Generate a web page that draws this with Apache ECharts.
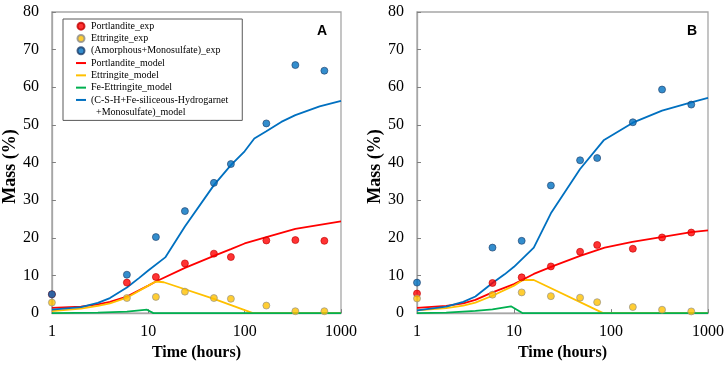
<!DOCTYPE html>
<html>
<head>
<meta charset="utf-8">
<script src="https://cdn.jsdelivr.net/npm/echarts@6/dist/echarts.min.js"></script>
<style>
html, body { margin: 0; padding: 0; background: #fff; }
#chart { width: 727px; height: 366px; }
</style>
</head>
<body>
<div id="chart"></div>
<script>
var expTimes = [1, 6, 12, 24, 48, 72, 168, 336, 672]
var yTicks = [0, 10, 20, 30, 40, 50, 60, 70, 80]

var names = [
  'Portlandite_exp',
  'Ettringite_exp',
  '(Amorphous+Monosulfate)_exp',
  'Portlandite_model',
  'Ettringite_model',
  'Fe-Ettringite_model',
  '(C-S-H+Fe-siliceous-Hydrogarnet+Monosulfate)_model',
]
var nameFirstLine = '(C-S-H+Fe-siliceous-Hydrogarnet'
var nameSecondLine = '  +Monosulfate)_model'

// panel A - measured
var portlanditeExpA = [5.0, 8.1, 9.6, 13.2, 15.8, 14.9, 19.3, 19.4, 19.2]
var ettringiteExpA = [2.8, 4.0, 4.3, 5.7, 4.0, 3.8, 2.0, 0.5, 0.5]
var amorphousExpA = [5.0, 10.2, 20.2, 27.1, 34.6, 39.6, 50.4, 65.9, 64.4]

// panel A - model, [hours, mass]
var portlanditeModelA = [[1, 1.4], [2, 1.7], [3, 2.3], [4, 3.0], [6, 4.4], [10, 7.3], [12, 8.4], [24, 12.0], [48, 15.2], [72, 17.0], [100, 18.5], [168, 20.2], [336, 22.4], [1000, 24.4]]
var ettringiteModelA = [[1, 0.5], [2, 1.2], [3, 1.9], [4, 2.6], [6, 4.1], [10, 7.3], [12, 8.4], [14.5, 8.2], [48, 3.8], [122, 0], [1000, 0]]
var feEttringiteModelA = [[1, 0], [3, 0.1], [6, 0.4], [9.7, 0.9], [11.3, 0], [1000, 0]]
var cshModelA = [[1, 0.9], [2, 1.6], [3, 2.7], [4, 4.0], [6, 6.8], [8, 9.3], [10, 11.3], [15, 14.8], [24, 23.0], [48, 34.0], [72, 39.3], [100, 43.0], [126, 46.4], [168, 48.3], [240, 50.8], [336, 52.6], [600, 54.9], [1000, 56.4]]

// panel B - measured
var portlanditeExpB = [5.2, 8.0, 9.5, 12.4, 16.3, 18.1, 17.1, 20.1, 21.4]
var ettringiteExpB = [3.9, 4.9, 5.5, 4.5, 4.1, 2.9, 1.6, 0.9, 0.45]
var amorphousExpB = [8.1, 17.4, 19.2, 33.9, 40.6, 41.2, 50.7, 59.4, 55.4]

// panel B - model
var portlanditeModelB = [[1, 1.4], [2, 1.9], [3, 2.6], [4, 3.5], [6, 5.5], [10, 7.7], [16, 10.4], [26, 12.6], [48, 15.2], [86, 17.4], [166, 18.9], [330, 20.2], [673, 21.5], [1000, 22.0]]
var ettringiteModelB = [[1, 0.7], [2, 1.3], [3, 2.0], [4, 2.8], [6, 4.6], [10, 7.3], [12, 8.6], [13, 8.8], [16, 8.8], [83, 0], [1000, 0]]
var feEttringiteModelB = [[1, 0], [2, 0.15], [4, 0.6], [6, 1.0], [9.3, 1.8], [12.2, 0], [1000, 0]]
var cshModelB = [[1, 0.7], [2, 1.7], [3, 3.0], [4, 4.4], [6, 8.0], [8, 10.3], [10, 12.3], [16, 17.4], [24, 26.5], [48, 38.3], [84, 45.9], [168, 50.6], [336, 53.8], [672, 56.0], [1000, 57.2]]

var RED = '#ff0000'
var YELLOW = '#ffc000'
var GREEN = '#00b050'
var BLUE = '#0070c0'
var FRAME = '#a6a6a6'
var SERIF = 'Liberation Serif'
var LINE_ICON = 'path://M0 0H10V2H0Z'

function zip(times, vals) {
  return times.map(function (t, i) { return [t, vals[i]] })
}

function expSeries(name, vals, color, border, idx) {
  return {
    name: name,
    type: 'scatter',
    xAxisIndex: idx,
    yAxisIndex: idx,
    symbol: 'circle',
    symbolSize: 7,
    z: 3,
    itemStyle: { color: color, borderColor: border, borderWidth: 0.8 },
    data: zip(expTimes, vals),
  }
}

function modelSeries(name, data, color, idx) {
  return {
    name: name,
    type: 'line',
    xAxisIndex: idx,
    yAxisIndex: idx,
    symbol: 'none',
    z: 2,
    lineStyle: { color: color, width: 1.8 },
    itemStyle: { color: color },
    data: data,
  }
}

function panelSeries(idx, pExp, eExp, aExp, pMod, eMod, fMod, cMod) {
  return [
    modelSeries(names[3], pMod, RED, idx),
    modelSeries(names[4], eMod, YELLOW, idx),
    modelSeries(names[5], fMod, GREEN, idx),
    modelSeries(names[6], cMod, BLUE, idx),
    expSeries(names[0], pExp, RED, '#c00000', idx),
    expSeries(names[1], eExp, YELLOW, '#8c8c8c', idx),
    expSeries(names[2], aExp, BLUE, '#1f3f6a', idx),
  ]
}

function xAxis(idx) {
  return {
    type: 'log',
    logBase: 10,
    gridIndex: idx,
    min: 1,
    max: 1000,
    name: 'Time (hours)',
    nameLocation: 'middle',
    nameGap: 31,
    nameTextStyle: { fontFamily: SERIF, fontWeight: 'bold', fontSize: 16, color: '#000' },
    axisLine: { lineStyle: { color: FRAME, width: 1.3 } },
    axisTick: { inside: true, length: 4, lineStyle: { color: '#808080' } },
    axisLabel: {
      fontFamily: SERIF, fontSize: 16, color: '#000', margin: 11,
      formatter: function (v) { return String(Math.round(v)) },
    },
    minorTick: { show: false },
    splitLine: { show: false },
  }
}

function yAxis(idx, gap) {
  return {
    type: 'value',
    gridIndex: idx,
    min: yTicks[0],
    max: yTicks[yTicks.length - 1],
    interval: yTicks[1] - yTicks[0],
    name: 'Mass (%)',
    nameLocation: 'middle',
    nameGap: gap,
    nameTextStyle: { fontFamily: SERIF, fontWeight: 'bold', fontSize: 18, color: '#000', padding: [0, 8, 0, 0] },
    axisLine: { show: true, lineStyle: { color: FRAME, width: 1.3 } },
    axisTick: { inside: true, length: 4, lineStyle: { color: '#808080' } },
    axisLabel: { fontFamily: SERIF, fontSize: 16, color: '#000', margin: 13 },
    splitLine: { show: false },
  }
}

var legendData = names.map(function (n, i) {
  return i < 3 ? { name: n, icon: 'circle' } : { name: n, icon: LINE_ICON }
})
legendData.push({ name: nameSecondLine, icon: 'none' })

var chart = echarts.init(document.getElementById('chart'))
chart.setOption({
  animation: false,
  backgroundColor: '#fff',
  grid: [
    { left: 49, top: 12, width: 292, height: 303, show: true, borderColor: FRAME, borderWidth: 1.3, backgroundColor: 'transparent' },
    { left: 417, top: 12, width: 291, height: 304, show: true, borderColor: FRAME, borderWidth: 1.3, backgroundColor: 'transparent' },
  ],
  xAxis: [xAxis(0), xAxis(1)],
  yAxis: [yAxis(0, 29), yAxis(1, 31)],
  legend: {
    orient: 'vertical',
    left: 63,
    top: 19,
    padding: [1, 14, 2, 13],
    itemGap: 0,
    itemWidth: 10,
    itemHeight: 7,
    symbolKeepAspect: true,
    borderColor: '#595959',
    borderWidth: 1,
    backgroundColor: '#fff',
    selectedMode: false,
    textStyle: { fontFamily: SERIF, fontSize: 10, lineHeight: 12.3, color: '#000' },
    formatter: function (n) { return n === names[6] ? nameFirstLine : n },
    data: legendData,
  },
  graphic: [
    { type: 'text', x: 322, y: 31, style: { text: 'A', fontFamily: 'Liberation Sans', fontWeight: 'bold', fontSize: 14, fill: '#000', align: 'center', verticalAlign: 'middle' } },
    { type: 'text', x: 692, y: 31, style: { text: 'B', fontFamily: 'Liberation Sans', fontWeight: 'bold', fontSize: 14, fill: '#000', align: 'center', verticalAlign: 'middle' } },
  ],
  series: panelSeries(0, portlanditeExpA, ettringiteExpA, amorphousExpA, portlanditeModelA, ettringiteModelA, feEttringiteModelA, cshModelA)
    .concat(panelSeries(1, portlanditeExpB, ettringiteExpB, amorphousExpB, portlanditeModelB, ettringiteModelB, feEttringiteModelB, cshModelB))
    .concat([{ name: nameSecondLine, type: 'scatter', xAxisIndex: 0, yAxisIndex: 0, data: [] }]),
})
</script>
</body>
</html>
